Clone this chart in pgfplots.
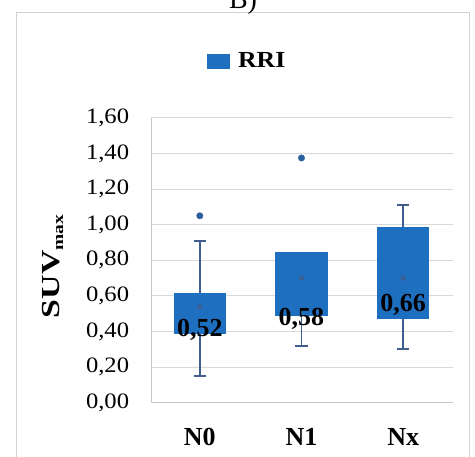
\documentclass[border=0pt]{standalone}
\usepackage{graphicx}
\usepackage{pgfplots}
\pgfplotsset{compat=1.18}
\usepgfplotslibrary{statistics}
\usepackage{fontspec}
\setmainfont{Liberation Serif}
\definecolor{boxblue}{HTML}{1F6FC1}
\definecolor{whisk}{HTML}{3F5E8E}
\definecolor{avgblue}{HTML}{3A78C2}
\definecolor{outl}{HTML}{2A5E9E}
\begin{document}
\begin{tikzpicture}
\useasboundingbox (0,0) rectangle (475bp,457bp);
\draw[gray!35, line width=0.8bp] (16bp,-5bp) rectangle (469bp,445bp);
\node[anchor=base, font=\fontsize{28bp}{30bp}\selectfont] at (243bp,448bp) {B)};
\begin{axis}[
  at={(151bp,54.3bp)}, anchor=south west,
  scale only axis, width=302bp, height=284.8bp,
  xmin=-0.48, xmax=2.49, ymin=0, ymax=1.6,
  xtick={0,1,2}, xticklabels={N0,N1,Nx},
  ytick={0,0.2,...,1.61},
  /pgf/number format/.cd, fixed, fixed zerofill, precision=2, use comma, assume math mode=true,
  /pgfplots/.cd,
  major tick length=0,
  axis lines*=left,
  axis line style={gray!45, line width=0.8bp},
  ymajorgrids, grid style={gray!30, line width=0.8bp},
  yticklabel style={font=\fontsize{22bp}{24bp}\selectfont, xscale=1.12, xshift=-16bp},
  xticklabel style={font=\fontsize{26bp}{28bp}\selectfont\bfseries, yshift=-22bp},
  ylabel={\scalebox{1.3}[1]{SUV\textsubscript{\fontsize{15bp}{17bp}\selectfont max}}},
  ylabel style={at={(axis description cs:-0.325,0.48)}, anchor=center, font=\fontsize{26bp}{28bp}\selectfont\bfseries},
  legend style={at={(axis description cs:0.318,1.2)}, anchor=center, draw=none, fill=none,
    font=\fontsize{23bp}{25bp}\selectfont\bfseries},
  legend image code/.code={\fill[boxblue] (-4bp,-7bp) rectangle (18bp,7bp);},
  boxplot/draw direction=y,
  boxplot/box extend=0.5,
  boxplot/whisker extend=0.12,
  boxplot/every box/.style={fill=boxblue, draw=boxblue},
  boxplot/every median/.style={draw=boxblue},
  boxplot/every whisker/.style={draw=whisk, line width=1.6bp},
  boxplot/every average/.style={/tikz/mark=x, /tikz/mark size=3bp, /tikz/mark options={draw=avgblue, line width=0.5bp}},
  clip=false,
]
\addlegendimage{boxblue}
\addlegendentry{\hspace{7bp}\scalebox{1.12}[1]{RRI}}
\addplot[boxplot prepared={draw position=0, lower whisker=0.15, lower quartile=0.393, median=0.52, average=0.54, upper quartile=0.612, upper whisker=0.908}, draw=whisk, line width=1.6bp] coordinates {};
\addplot[boxplot prepared={draw position=1, lower whisker=0.32, lower quartile=0.493, median=0.58, average=0.70, upper quartile=0.843, upper whisker=0.843}, draw=whisk, line width=1.6bp] coordinates {};
\addplot[boxplot prepared={draw position=2, lower whisker=0.30, lower quartile=0.472, median=0.66, average=0.70, upper quartile=0.983, upper whisker=1.11}, draw=whisk, line width=1.6bp] coordinates {};
\addplot[only marks, mark=*, mark size=3.2bp, mark options={fill=outl, draw=outl}] coordinates {(0,1.05) (1,1.375)};
\addplot[only marks, mark=none, nodes near coords, point meta=explicit symbolic,
  every node near coord/.append style={anchor=north, inner sep=0pt, yshift=-9bp, font=\fontsize{26bp}{28bp}\selectfont\bfseries}]
  coordinates {(0,0.52)[0,52] (1,0.58)[0,58] (2,0.66)[0,66]};
\end{axis}
\end{tikzpicture}
\end{document}
